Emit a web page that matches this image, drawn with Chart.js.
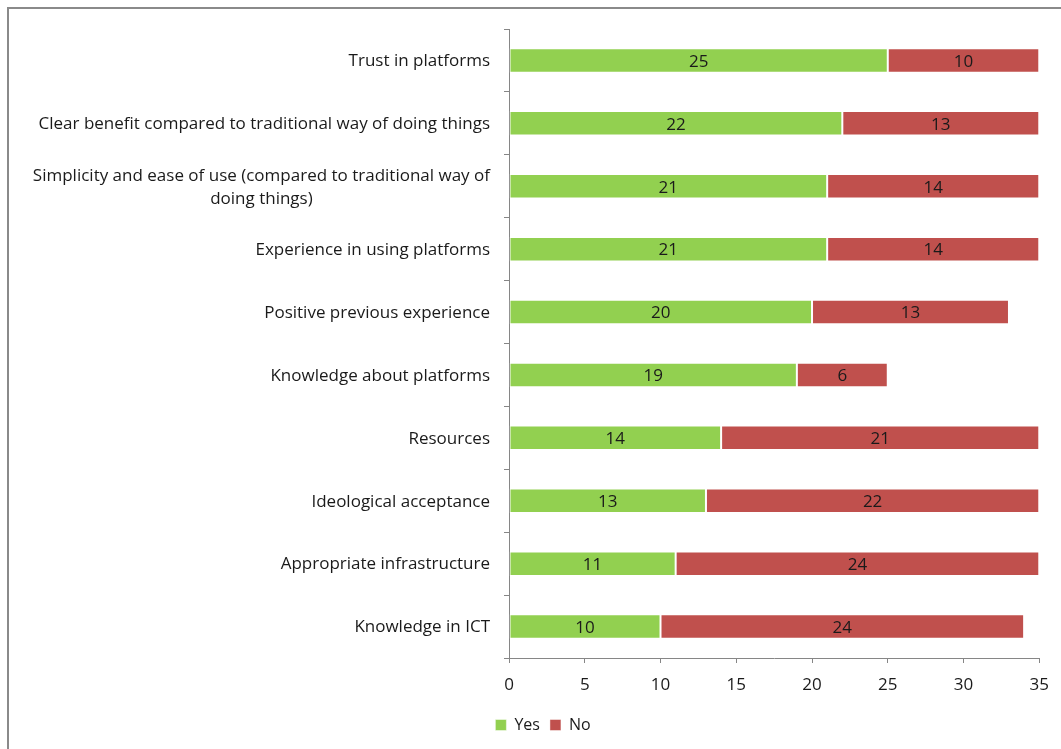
<!DOCTYPE html>
<html>
<head>
<meta charset="utf-8">
<script src="https://cdn.jsdelivr.net/npm/chart.js@4.4.1/dist/chart.umd.min.js"></script>
<style>
  html, body { margin: 0; padding: 0; background: #fff; }
  #wrap { position: relative; width: 1061px; height: 749px; }
</style>
</head>
<body>
<div id="wrap"><canvas id="factorChart"></canvas></div>
<script>
// factors, top to bottom
const factors = [
  'Trust in platforms',
  'Clear benefit compared to traditional way of doing things',
  ['Simplicity and ease of use (compared to traditional way of', 'doing things)'],
  'Experience in using platforms',
  'Positive previous experience',
  'Knowledge about platforms',
  'Resources',
  'Ideological acceptance',
  'Appropriate infrastructure',
  'Knowledge in ICT'
];
const yesCounts = [25, 22, 21, 21, 20, 19, 14, 13, 11, 10];
const noCounts  = [10, 13, 14, 14, 13, 6, 21, 22, 24, 24];
const seriesNames = ['Yes', 'No'];
const xTicks = { min: 0, max: 35, step: 5 };

const FONT = '"Open Sans", Lato, sans-serif';
const FONT_SIZE = 17;
const AXIS_GREY = '#868686';

// grey frame along the top and left edge
const framePlugin = {
  id: 'frame',
  beforeDraw(chart) {
    const c = chart.ctx;
    c.save();
    c.strokeStyle = '#8a8a8a';
    c.lineWidth = 2;
    c.beginPath();
    c.moveTo(8, chart.height);
    c.lineTo(8, 8);
    c.lineTo(chart.width, 8);
    c.stroke();
    c.restore();
  }
};

// category labels: right-aligned block, lines centred inside the block
const catLabelPlugin = {
  id: 'catLabels',
  afterDraw(chart) {
    const c = chart.ctx;
    const y = chart.scales.y;
    c.save();
    c.font = FONT_SIZE + 'px ' + FONT;
    c.fillStyle = '#1a1a1a';
    c.textAlign = 'center';
    c.textBaseline = 'middle';
    const lineH = 23;
    const right = y.right - 19;
    factors.forEach((lab, i) => {
      const lines = Array.isArray(lab) ? lab : [lab];
      const w = Math.max(...lines.map(l => c.measureText(l).width));
      const cx = right - w / 2;
      const cy = y.getPixelForTick(i) + 1;
      lines.forEach((l, k) => {
        c.fillText(l, cx, cy + (k - (lines.length - 1) / 2) * lineH);
      });
    });
    c.restore();
  }
};

// value in the middle of every segment
const valuePlugin = {
  id: 'values',
  afterDatasetsDraw(chart) {
    const c = chart.ctx;
    c.save();
    c.font = FONT_SIZE + 'px ' + FONT;
    c.fillStyle = '#1a1a1a';
    c.textAlign = 'center';
    c.textBaseline = 'middle';
    chart.data.datasets.forEach((ds, di) => {
      chart.getDatasetMeta(di).data.forEach((bar, i) => {
        const p = bar.getCenterPoint();
        c.fillText(String(ds.data[i]), p.x, p.y + 1.5);
      });
    });
    c.restore();
  }
};

const ctx = document.getElementById('factorChart');
const factorChart = new Chart(ctx, {
  type: 'bar',
  data: {
    labels: factors,
    datasets: [{
      label: seriesNames[0],
      data: yesCounts,
      backgroundColor: '#92D050',
      borderColor: 'rgba(255,255,255,0.45)',
      borderWidth: 1,
      borderSkipped: false,
      categoryPercentage: 1,
      barPercentage: 0.39
    },
    {
      label: seriesNames[1],
      data: noCounts,
      backgroundColor: '#C0504D',
      borderColor: 'rgba(255,255,255,0.45)',
      borderWidth: 1,
      borderSkipped: false,
      categoryPercentage: 1,
      barPercentage: 0.39
    }]
  },
  options: {
    indexAxis: 'y',
    responsive: true,
    maintainAspectRatio: false,
    animation: false,
    layout: {
      // extra left padding nudges the centred legend to the right
      padding: { left: 46, top: 29, right: 21, bottom: 6 }
    },
    plugins: {
      title: { display: false },
      tooltip: { enabled: false },
      legend: {
        display: true,
        position: 'bottom',
        labels: {
          font: { family: FONT, size: 16 },
          color: '#1a1a1a',
          boxWidth: 11,
          boxHeight: 11,
          padding: 10
        }
      }
    },
    scales: {
      x: {
        stacked: true,
        min: xTicks.min,
        max: xTicks.max,
        ticks: {
          stepSize: xTicks.step,
          color: '#1a1a1a',
          padding: 12,
          font: { family: FONT, size: FONT_SIZE }
        },
        grid: {
          drawOnChartArea: false,
          drawTicks: true,
          tickLength: 5,
          color: AXIS_GREY
        },
        border: { color: AXIS_GREY, width: 1 },
        afterFit: (scale) => { scale.height = 49; }
      },
      y: {
        stacked: true,
        ticks: { display: false },
        grid: {
          drawOnChartArea: false,
          drawTicks: true,
          tickLength: 5,
          color: AXIS_GREY
        },
        border: { color: AXIS_GREY, width: 1 },
        afterFit: (scale) => { scale.width = 463; }
      }
    }
  },
  plugins: [framePlugin, catLabelPlugin, valuePlugin]
});
</script>
</body>
</html>
